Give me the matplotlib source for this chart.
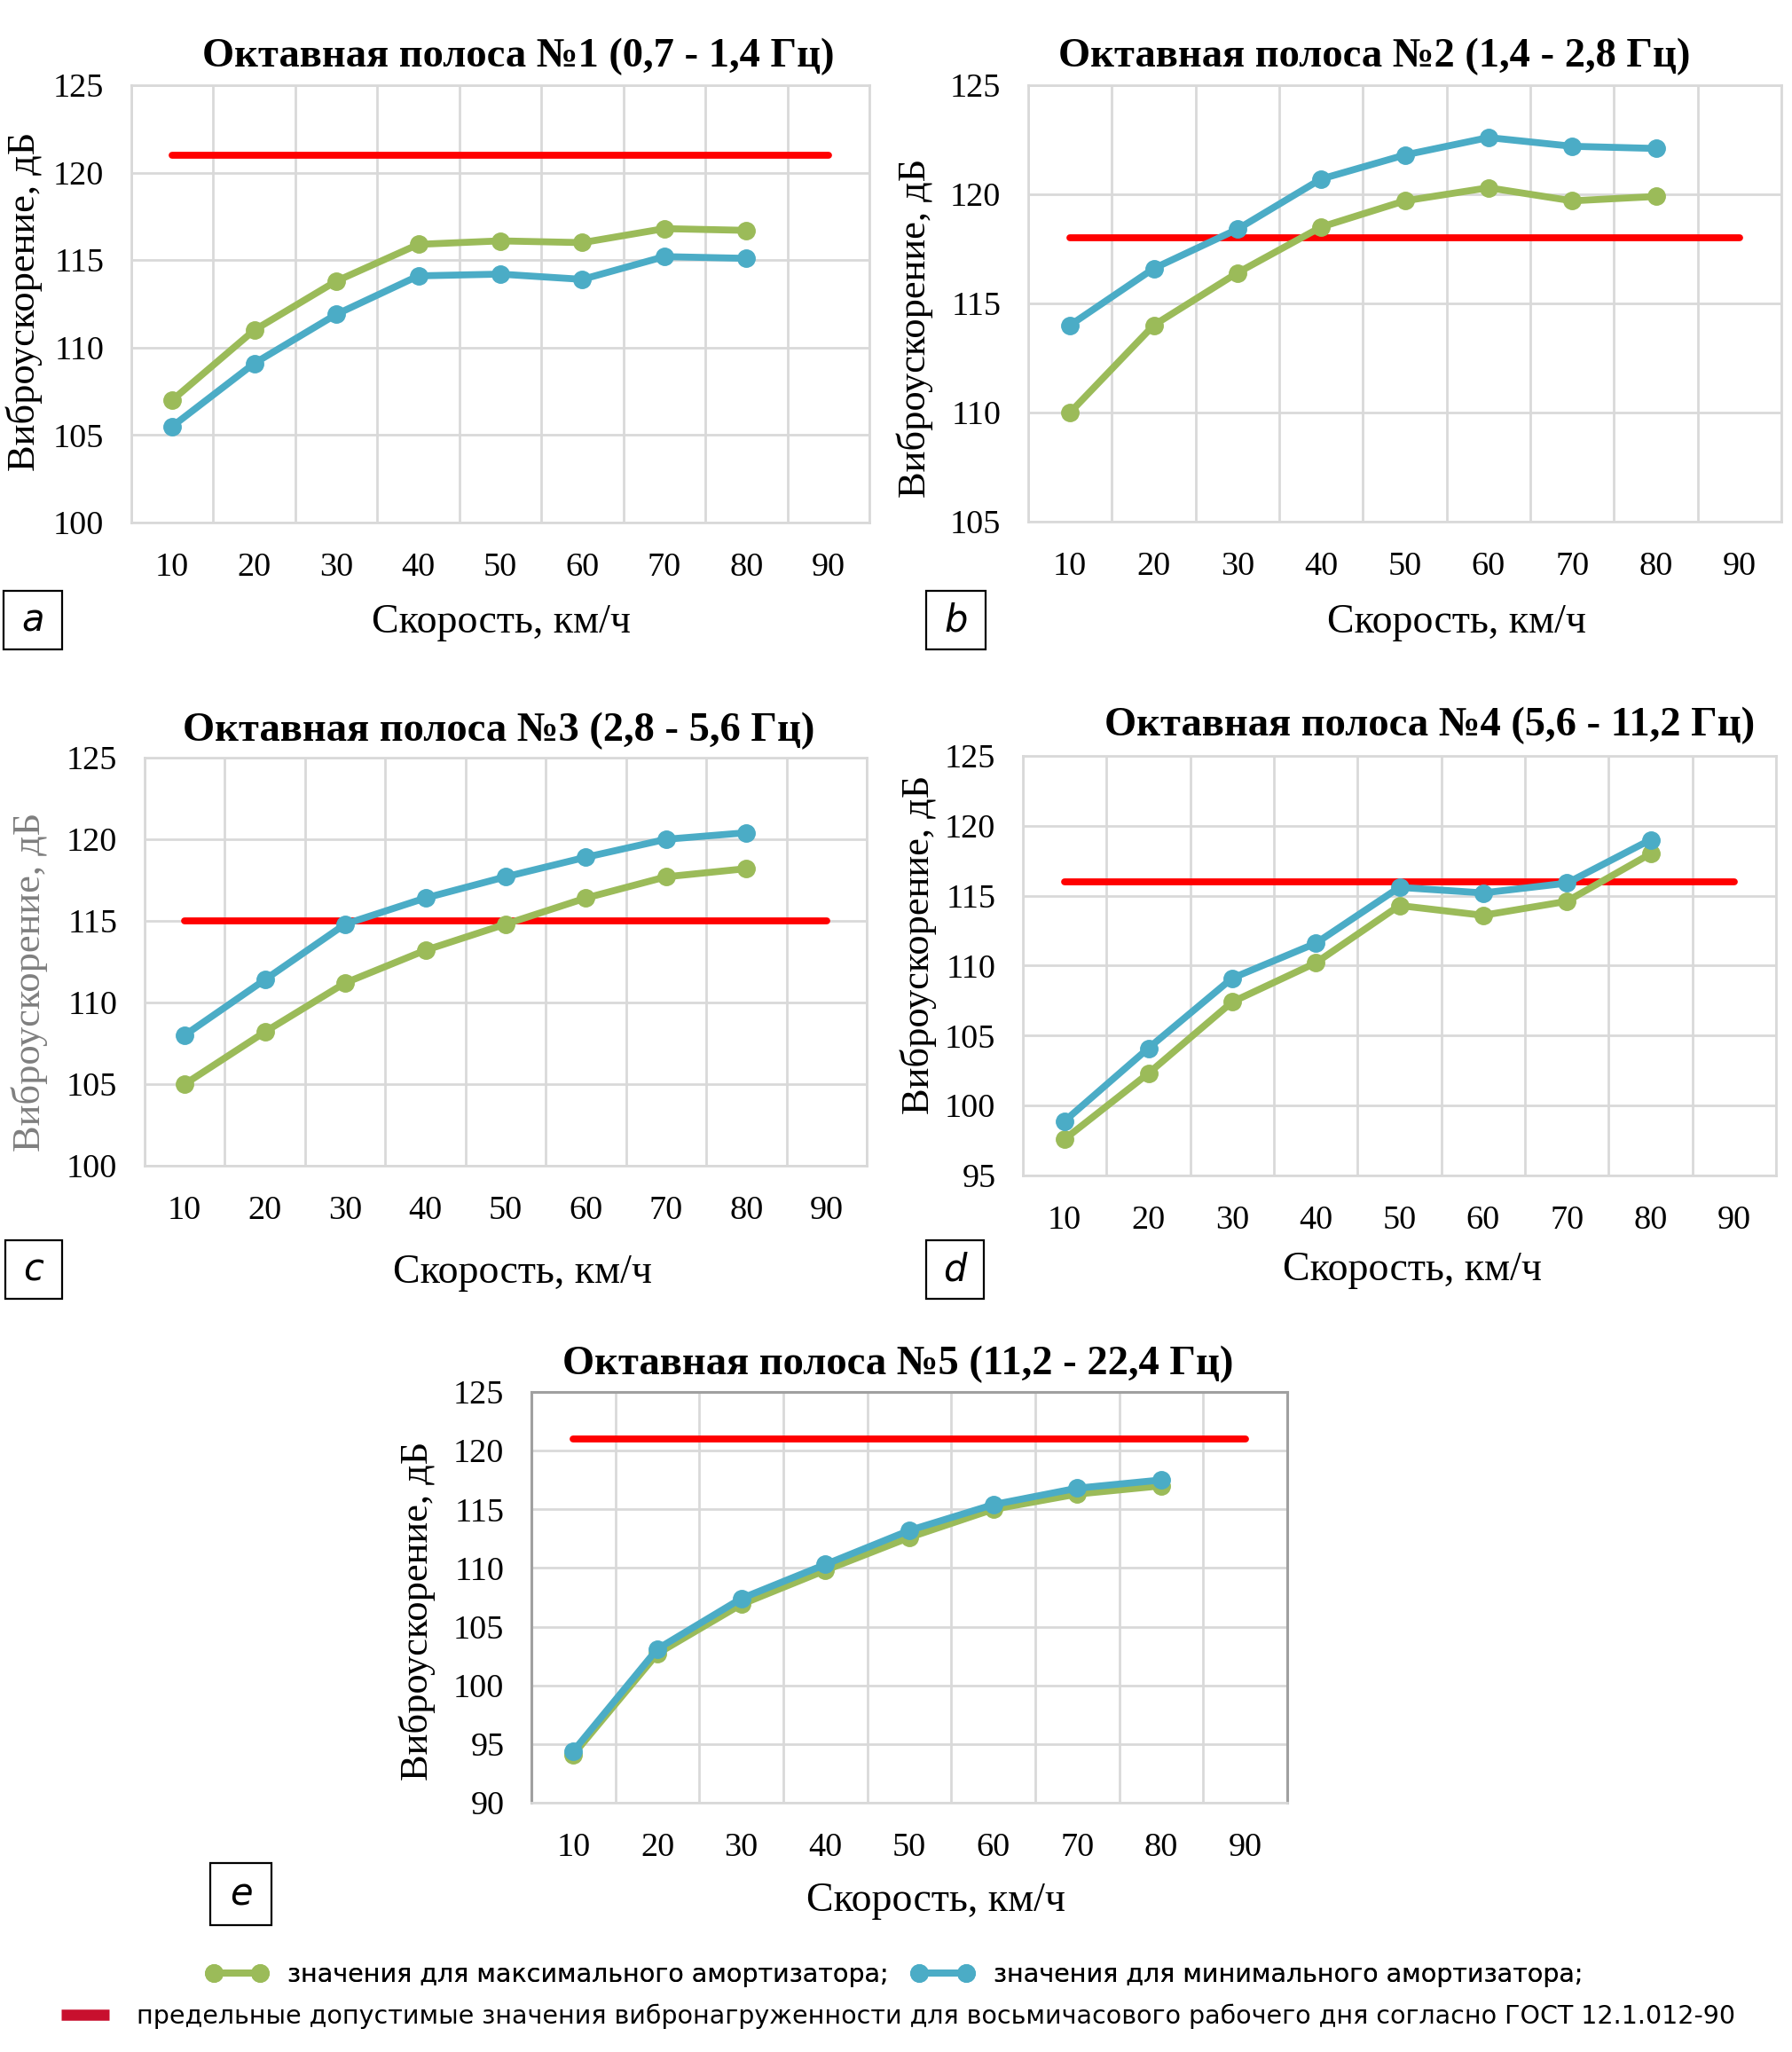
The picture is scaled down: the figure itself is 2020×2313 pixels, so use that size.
import matplotlib
matplotlib.use('Agg')
import matplotlib.pyplot as plt
import numpy as np
from matplotlib.lines import Line2D
from matplotlib.patches import Rectangle
from matplotlib import font_manager as fm

W, H = 2020, 2313

SERIF = ['Liberation Serif', 'DejaVu Serif']
plt.rcParams['font.family'] = SERIF

fig = plt.figure(figsize=(W / 100, H / 100), dpi=100)

# ---------------- data ----------------
speeds = ['10', '20', '30', '40', '50', '60', '70', '80', '90']

max_a = [107.0, 111.0, 113.8, 115.9, 116.1, 116.0, 116.8, 116.7]
min_a = [105.5, 109.1, 111.9, 114.1, 114.2, 113.9, 115.2, 115.1]
lim_a = 121

max_b = [110.0, 114.0, 116.4, 118.5, 119.7, 120.3, 119.7, 119.9]
min_b = [114.0, 116.6, 118.4, 120.7, 121.8, 122.6, 122.2, 122.1]
lim_b = 118

max_c = [105.0, 108.2, 111.2, 113.2, 114.8, 116.4, 117.7, 118.2]
min_c = [108.0, 111.4, 114.8, 116.4, 117.7, 118.9, 120.0, 120.4]
lim_c = 115

max_d = [97.6, 102.3, 107.4, 110.2, 114.3, 113.6, 114.6, 118.0]
min_d = [98.9, 104.1, 109.1, 111.6, 115.6, 115.2, 115.9, 119.0]
lim_d = 116

max_e = [94.1, 102.7, 106.9, 109.8, 112.6, 115.0, 116.3, 117.0]
min_e = [94.4, 103.1, 107.4, 110.3, 113.2, 115.4, 116.8, 117.5]
lim_e = 121

titles = ['Октавная полоса №1 (0,7 - 1,4 Гц)',
          'Октавная полоса №2 (1,4 - 2,8 Гц)',
          'Октавная полоса №3 (2,8 - 5,6 Гц)',
          'Октавная полоса №4 (5,6 - 11,2 Гц)',
          'Октавная полоса №5 (11,2 - 22,4 Гц)']
panel_letters = ['a', 'b', 'c', 'd', 'e']
y_ranges = [(100, 125), (105, 125), (100, 125), (95, 125), (90, 125)]

xlabel = 'Скорость, км/ч'
ylabel = 'Виброускорение, дБ'
legend_max = 'значения для максимального амортизатора;'
legend_min = 'значения для минимального амортизатора;'
legend_lim = ('предельные допустимые значения вибронагруженности для восьмичасового '
              'рабочего дня согласно ГОСТ 12.1.012-90')

# ---------------- style ----------------
GREEN = '#9BBB59'
BLUE = '#4BACC6'
RED = '#FF0000'
LEG_RED = '#C8102E'
GRID = '#D9D9D9'

SANS = ['DejaVu Sans']
SANS_STRETCH = 'normal'
try:
    for fam in ['Liberation Sans Narrow', 'DejaVu Sans']:
        p = fm.findfont(fm.FontProperties(family=fam, stretch='condensed'),
                        fallback_to_default=False)
        if 'Narrow' in p or 'Condensed' in p:
            SANS = [fam, 'DejaVu Sans']
            SANS_STRETCH = 'condensed'
            break
except Exception:
    pass

LW = 5.6
MS = 14
TICK_FONT = fm.FontProperties(family=SERIF, size=27.5)

layout = [
    dict(ax=(148, 980, 96, 589), title=(584, 64), yl=(27, 340), xl=(565, 702), box=(4, 70, 666, 732)),
    dict(ax=(1159, 2008, 96, 588), title=(1549, 64), yl=(1031, 370), xl=(1642, 702), box=(1044, 1111, 666, 732)),
    dict(ax=(163, 977, 854, 1314), title=(562, 824), yl=(33, 1107), xl=(589, 1435), box=(6, 70, 1398, 1464)),
    dict(ax=(1153, 2002, 852, 1325), title=(1612, 818), yl=(1035, 1065), xl=(1592, 1432), box=(1044, 1109, 1398, 1464)),
    dict(ax=(599, 1451, 1569, 2032), title=(1012, 1538), yl=(470, 1816), xl=(1055, 2143), box=(237, 306, 2100, 2170)),
]

series = [(max_a, min_a, lim_a), (max_b, min_b, lim_b), (max_c, min_c, lim_c),
          (max_d, min_d, lim_d), (max_e, min_e, lim_e)]


def fx(px):
    return px / W


def fy(py):
    return 1 - py / H


x_all = np.arange(len(speeds))

for i, (lay, (mx, mn, lim)) in enumerate(zip(layout, series)):
    l, r, t, b = lay['ax']
    ax = fig.add_axes([fx(l), fy(b), (r - l) / W, (b - t) / H])
    n = len(mx)
    ax.plot([x_all[0], x_all[-1]], [lim, lim], color=RED, lw=LW,
            solid_capstyle='round', zorder=2)
    ax.plot(x_all[:n], mx, color=GREEN, lw=LW, marker='o', ms=MS,
            markeredgecolor=GREEN, zorder=3)
    ax.plot(x_all[:n], mn, color=BLUE, lw=LW, marker='o', ms=MS,
            markeredgecolor=BLUE, zorder=4)

    y0, y1 = y_ranges[i]
    ax.set_ylim(y0, y1)
    ax.set_xlim(-0.5, len(speeds) - 0.5)
    yt = np.arange(y0, y1 + 1, 5)
    ax.set_yticks(yt)
    ax.set_yticklabels([str(v) for v in yt], fontproperties=TICK_FONT)
    ax.set_xticks(x_all)
    ax.set_xticklabels(speeds, fontproperties=TICK_FONT)
    ax.set_xticks(np.arange(-0.5, len(speeds), 1), minor=True)
    ax.grid(which='minor', axis='x', color=GRID, lw=2.0, zorder=0)
    ax.grid(which='major', axis='y', color=GRID, lw=2.0, zorder=0)
    ax.grid(which='major', axis='x', visible=False)
    ax.tick_params(which='both', length=0)
    ax.tick_params(axis='y', pad=22)
    ax.tick_params(axis='x', pad=24)
    for side, sp in ax.spines.items():
        sp.set_color(GRID)
        sp.set_linewidth(2.0)
    if i == 4:
        for side in ['left', 'top', 'right']:
            ax.spines[side].set_color('#A0A0A0')
            ax.spines[side].set_linewidth(2.2)
    ax.set_axisbelow(True)

    fig.text(fx(lay['title'][0]), fy(lay['title'][1]), titles[i], family=SERIF,
             fontsize=33.5, fontweight='bold', ha='center', va='center')
    fig.text(fx(lay['yl'][0]), fy(lay['yl'][1]), ylabel, family=SERIF, fontsize=32,
             rotation=90, ha='center', va='center',
             color='#7F7F7F' if i == 2 else 'black')
    fig.text(fx(lay['xl'][0]), fy(lay['xl'][1]), xlabel, family=SERIF, fontsize=33,
             ha='center', va='center')
    bl, br, bt, bb = lay['box']
    fig.patches.append(Rectangle((fx(bl), fy(bb)), (br - bl) / W, (bb - bt) / H,
                                 transform=fig.transFigure, fill=False,
                                 edgecolor='black', lw=1.6))
    fig.text(fx((bl + br) / 2), fy((bt + bb) / 2), panel_letters[i], family=SANS,
             fontsize=30, style='italic', stretch=SANS_STRETCH, ha='center', va='center')

# ---------------- legend ----------------
renderer = fig.canvas.get_renderer()
probe = fig.text(0, 0, legend_lim, family=SANS, stretch=SANS_STRETCH, fontsize=23)
w23 = probe.get_window_extent(renderer).width
probe.remove()
LEG_SIZE = 23 * 1800 / w23

h_max = Line2D([], [], color=GREEN, lw=LW, marker='o', ms=MS, markeredgecolor=GREEN)
h_min = Line2D([], [], color=BLUE, lw=LW, marker='o', ms=MS, markeredgecolor=BLUE)
h_lim = Line2D([], [], color=LEG_RED, lw=9, solid_capstyle='butt')

hl_px = 70.0
em_px = LEG_SIZE * 100 / 72
prop = {'family': SANS, 'size': LEG_SIZE, 'stretch': SANS_STRETCH}

leg1 = fig.legend([h_max, h_min], [legend_max, legend_min], ncol=2, frameon=False,
                  loc='center left', bbox_to_anchor=(fx(232), fy(2226)),
                  prop=prop, numpoints=2,
                  handlelength=hl_px / em_px, handletextpad=22 / em_px,
                  columnspacing=26 / em_px,
                  borderpad=0, borderaxespad=0)
leg2 = fig.legend([h_lim], [legend_lim], frameon=False,
                  loc='center left', bbox_to_anchor=(fx(60), fy(2273)),
                  prop=prop, numpoints=2,
                  handlelength=72 / em_px, handletextpad=22 / em_px,
                  borderpad=0, borderaxespad=0)
fig.add_artist(leg1)

fig.savefig('out.png', dpi=100, facecolor='white')
